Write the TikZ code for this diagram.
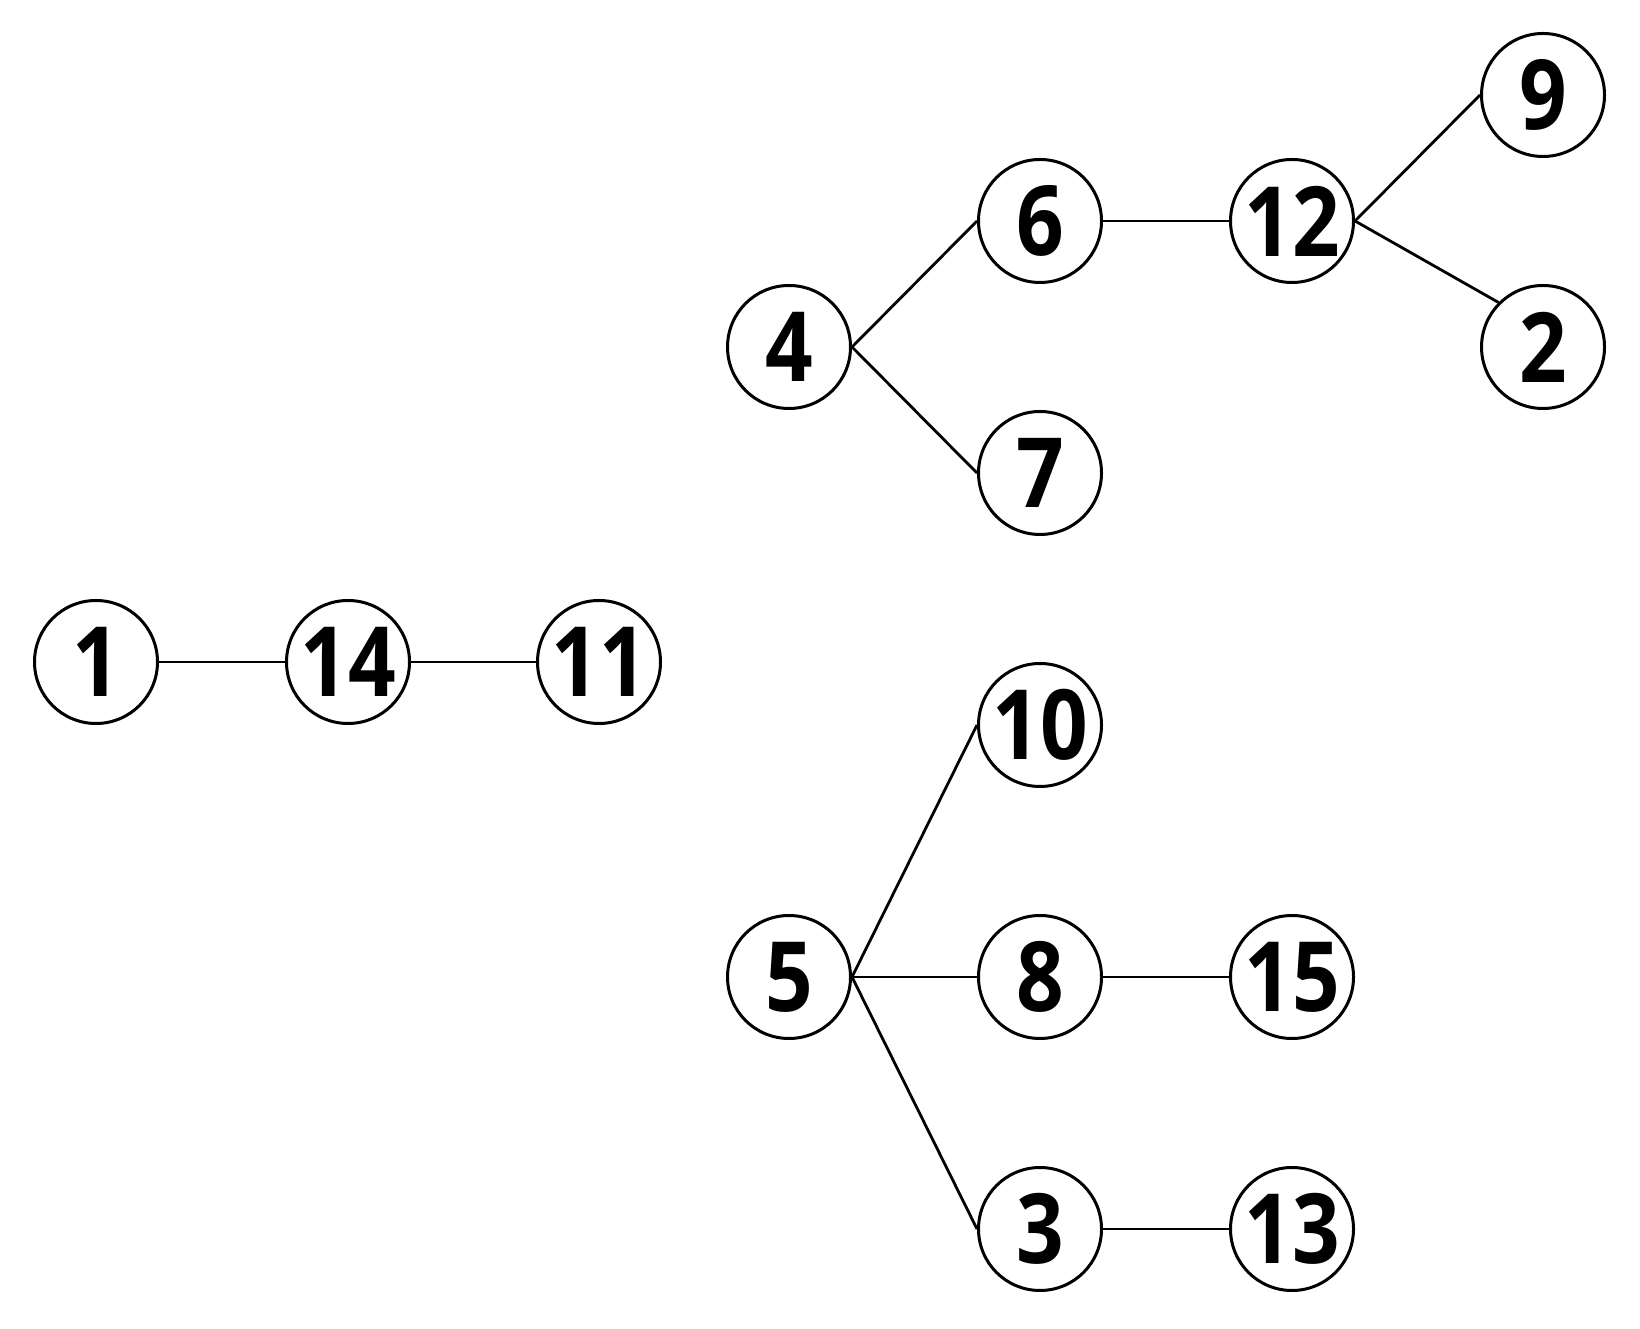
\documentclass[tikz,border=0pt]{standalone}
\usepackage{fontspec}
\setmainfont{Open Sans}
\newfontfamily\lblfont[FakeStretch=0.86]{Open Sans}
\begin{document}
\begin{tikzpicture}[x=1pt,y=1pt,
  vtx/.style={circle,draw,line width=3pt,minimum size=123pt,inner sep=0pt,
    font=\lblfont\fontsize{97}{97}\selectfont\bfseries},
  edge/.style={line width=2.8pt}]
\useasboundingbox (0,0) rectangle (1640,1328);
\node[vtx] (n1) at (96,666) {1};
\node[vtx] (n14) at (348,666) {14};
\node[vtx] (n11) at (599,666) {11};
\node[vtx] (n4) at (789,981) {4};
\node[vtx] (n6) at (1040,1107) {6};
\node[vtx] (n7) at (1040,855) {7};
\node[vtx] (n12) at (1292,1107) {12};
\node[vtx] (n9) at (1543,1233) {9};
\node[vtx] (n2) at (1543,981) {2};
\node[vtx] (n10) at (1040,603) {10};
\node[vtx] (n5) at (789,351) {5};
\node[vtx] (n8) at (1040,351) {8};
\node[vtx] (n15) at (1292,351) {15};
\node[vtx] (n3) at (1040,99) {3};
\node[vtx] (n13) at (1292,99) {13};
\draw[edge] (n1.east) -- (n14.west);
\draw[edge] (n14.east) -- (n11.west);
\draw[edge] (n4.east) -- (n6.west);
\draw[edge] (n4.east) -- (n7.west);
\draw[edge] (n6.east) -- (n12.west);
\draw[edge] (n12.east) -- (n9.west);
\draw[edge] (n12.east) -- (n2.north west);
\draw[edge] (n5.east) -- (n10.west);
\draw[edge] (n5.east) -- (n8.west);
\draw[edge] (n5.east) -- (n3.west);
\draw[edge] (n8.east) -- (n15.west);
\draw[edge] (n3.east) -- (n13.west);
\end{tikzpicture}
\end{document}
